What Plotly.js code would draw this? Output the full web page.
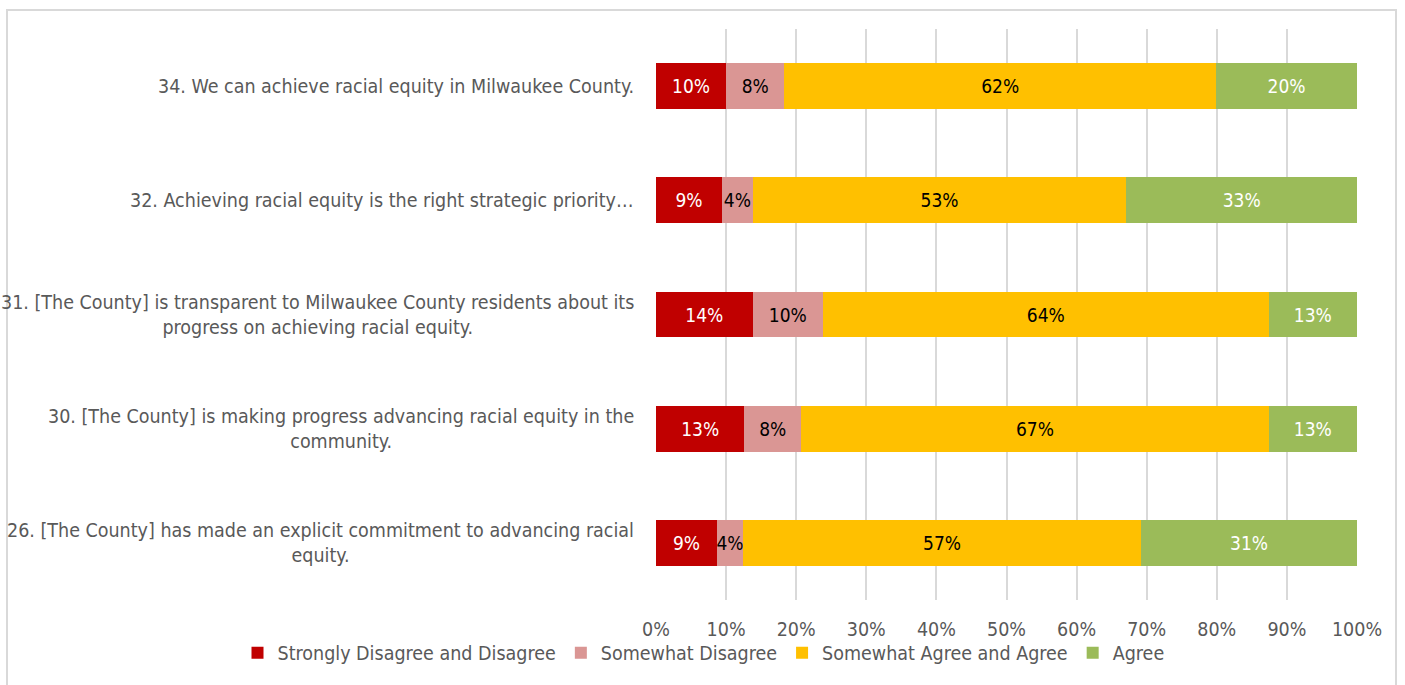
<!DOCTYPE html>
<html>
<head>
<meta charset="utf-8">
<script src="https://cdn.plot.ly/plotly-3.0.1.min.js"></script>
<style>
  html, body { margin: 0; padding: 0; background: #ffffff; }
  #frame { position: absolute; left: 6px; top: 9px; width: 1391px; height: 700px; border: 2px solid #d9d9d9; box-sizing: border-box; }
  #chart { position: absolute; left: 0; top: 0; width: 1405px; height: 685px; }
</style>
</head>
<body>
<div id="frame"></div>
<div id="chart"></div>
<script>
// Questions, listed bottom to top
const questions = [
  "26. [The County] has made an explicit commitment to advancing racial<br>equity.",
  "30. [The County] is making progress advancing racial equity in the<br>community.",
  "31. [The County] is transparent to Milwaukee County residents about its<br>progress on achieving racial equity.",
  "32. Achieving racial equity is the right strategic priority…",
  "34. We can achieve racial equity in Milwaukee County."
];
const questionKeys = ["Q26", "Q30", "Q31", "Q32", "Q34"];

const seriesNames = [
  "Strongly Disagree and Disagree",
  "Somewhat Disagree",
  "Somewhat Agree and Agree",
  "Agree"
];

const stronglyDisagree = [0.087, 0.126, 0.138, 0.094, 0.100];
const somewhatDisagree = [0.037, 0.081, 0.100, 0.044, 0.083];
const somewhatAgree    = [0.568, 0.667, 0.636, 0.533, 0.616];
const agree            = [0.308, 0.126, 0.126, 0.329, 0.201];

const xTickValues = [0, 0.1, 0.2, 0.3, 0.4, 0.5, 0.6, 0.7, 0.8, 0.9, 1.0];
const xTickLabels = ["0%", "10%", "20%", "30%", "40%", "50%", "60%", "70%", "80%", "90%", "100%"];

const colors = ["#C00000", "#DA9694", "#FFC000", "#9BBB59"];
const labelColors = ["#ffffff", "#000000", "#000000", "#ffffff"];
const FONT = '"DejaVu Sans Condensed", "Liberation Sans Narrow", "Arial Narrow", sans-serif';

const seriesValues = [stronglyDisagree, somewhatDisagree, somewhatAgree, agree];

const traces = seriesValues.map((vals, i) => ({
  type: "bar",
  orientation: "h",
  name: seriesNames[i],
  y: questionKeys,
  x: vals,
  marker: { color: colors[i], line: { width: 0 } },
  texttemplate: "%{x:.0%}",
  textposition: "inside",
  insidetextanchor: "middle",
  textangle: 0,
  constraintext: "none",
  textfont: { family: FONT, size: 19, color: labelColors[i] },
  hoverinfo: "name+x"
}));

const annotations = questions.map((q, i) => ({
  xref: "paper", yref: "y",
  x: 0, y: questionKeys[i],
  xanchor: "right", yanchor: "middle",
  xshift: -20,
  text: q,
  align: "center",
  showarrow: false,
  font: { family: FONT, size: 19.5, color: "#595959" }
}));

const layout = {
  width: 1405, height: 685,
  paper_bgcolor: "rgba(0,0,0,0)",
  plot_bgcolor: "rgba(0,0,0,0)",
  margin: { l: 656, r: 48, t: 29, b: 85, pad: 0 },
  barmode: "stack",
  bargap: 0.6,
  showlegend: true,
  font: { family: FONT, size: 19.5, color: "#595959" },
  xaxis: {
    range: [0, 1],
    tickvals: xTickValues,
    ticktext: xTickLabels,
    showgrid: true,
    gridcolor: "#d9d9d9",
    gridwidth: 2,
    zeroline: false,
    showline: false,
    ticks: "",
    ticklabelstandoff: 15,
    tickfont: { family: FONT, size: 19.5, color: "#595959" },
    fixedrange: true
  },
  yaxis: {
    type: "category",
    categoryorder: "array",
    categoryarray: questionKeys,
    showticklabels: false,
    showgrid: false,
    zeroline: false,
    showline: false,
    ticks: "",
    fixedrange: true
  },
  legend: {
    orientation: "h",
    x: -0.597, xanchor: "left",
    y: -0.093, yanchor: "middle",
    traceorder: "normal",
    font: { family: FONT, size: 19.5, color: "#595959" },
    bgcolor: "rgba(0,0,0,0)"
  },
  annotations: annotations
};

Plotly.newPlot("chart", traces, layout, { displayModeBar: false, staticPlot: true });
</script>
</body>
</html>
